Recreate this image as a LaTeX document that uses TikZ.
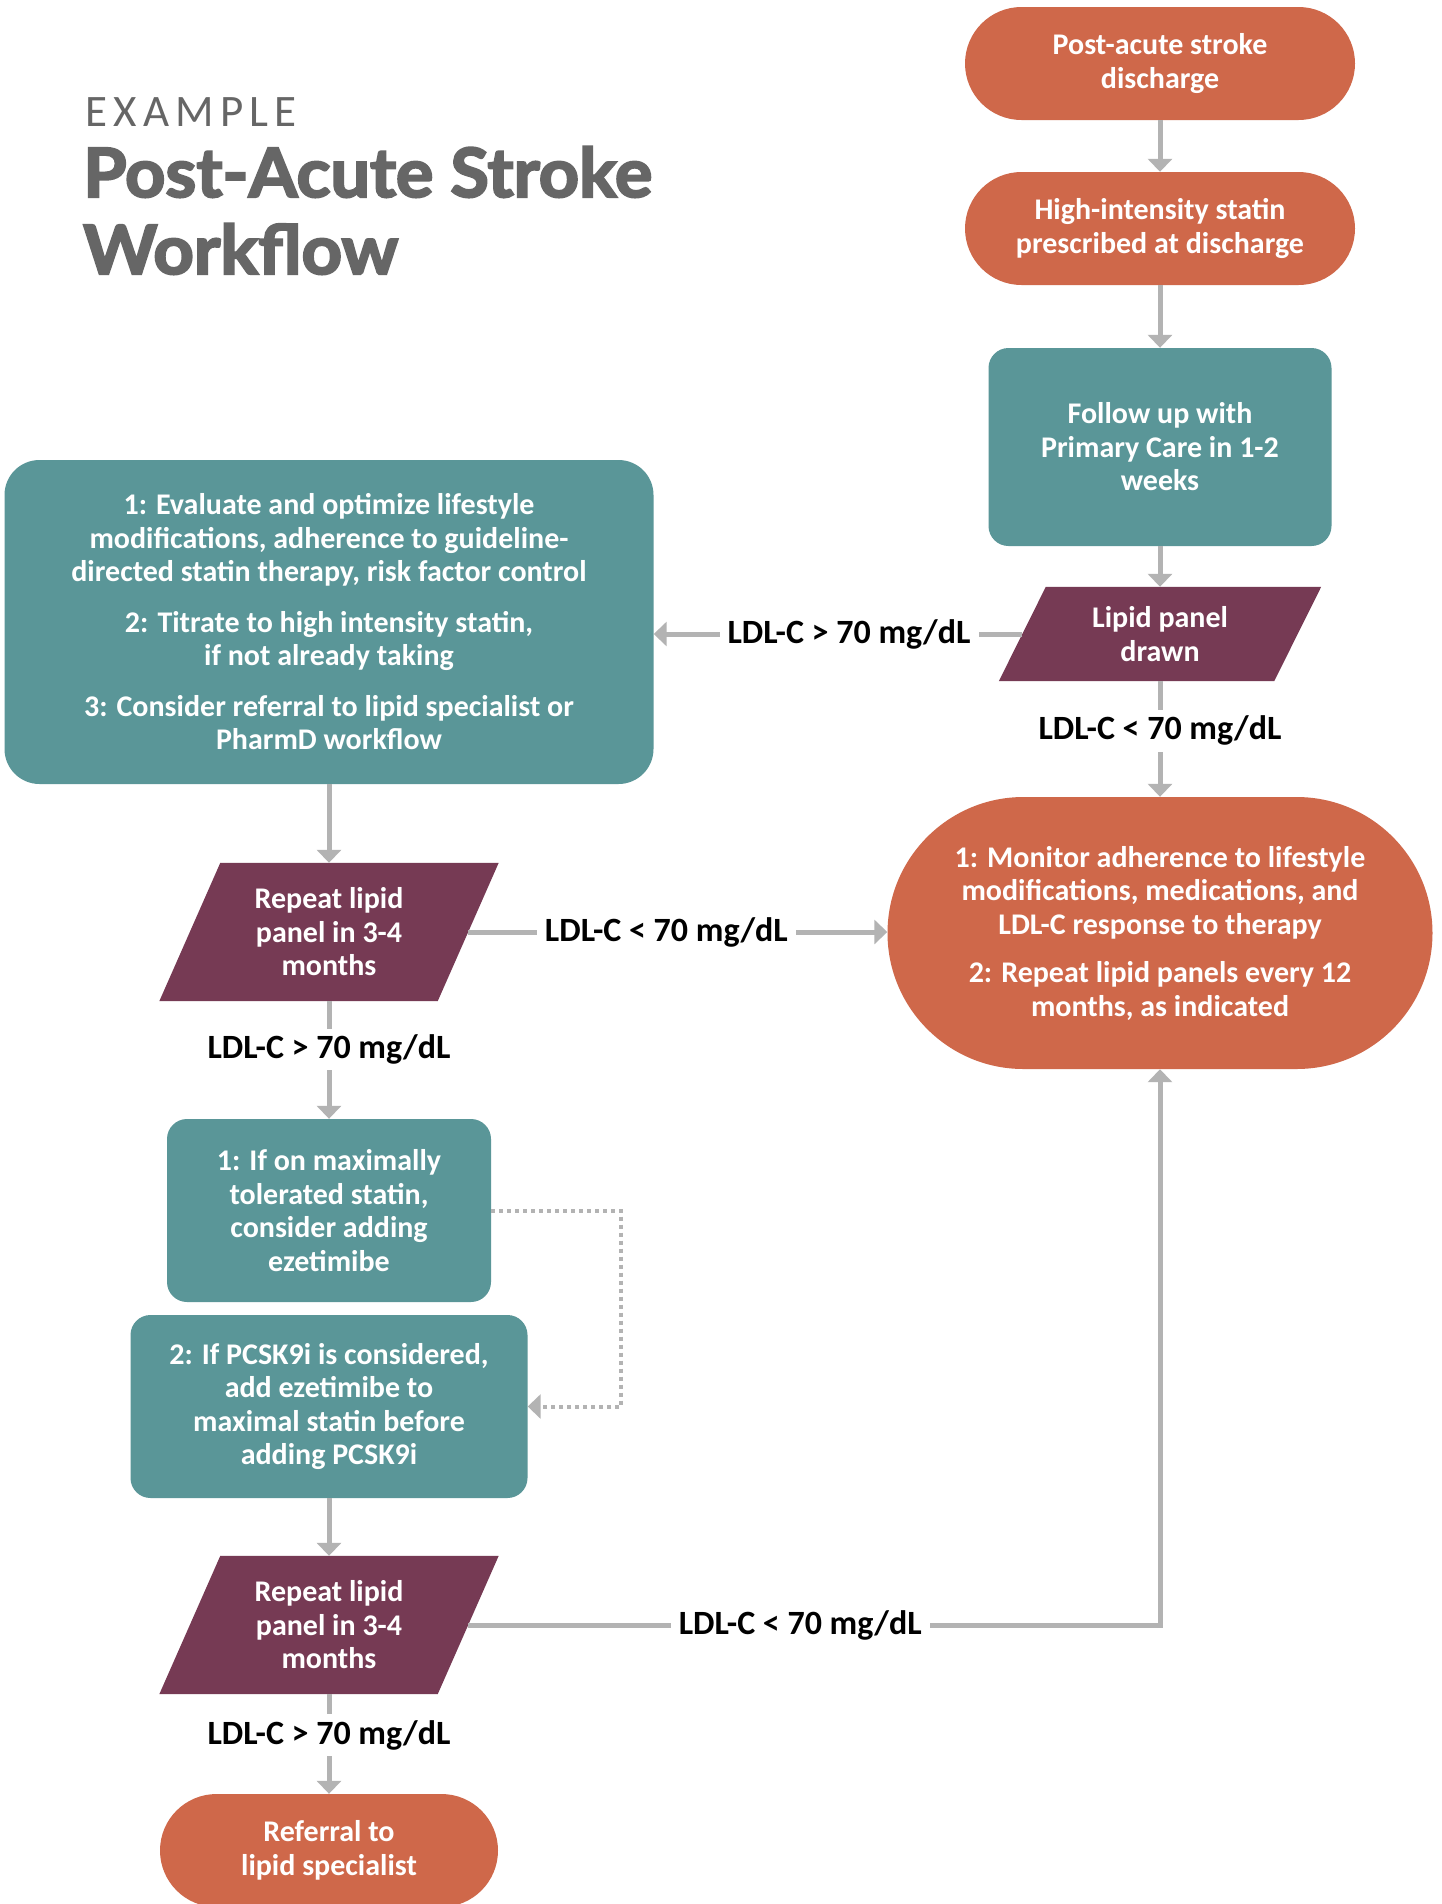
\documentclass[tikz,border=0pt]{standalone}
\usepackage{fontspec}
\usepackage{graphicx}
\setmainfont{Carlito}
\newfontfamily\titlefont{Lato}[BoldFeatures={FakeBold=3}]
\usetikzlibrary{arrows.meta,calc,backgrounds}
\definecolor{orng}{HTML}{CF684A}
\definecolor{tealc}{HTML}{5A9698}
\definecolor{plum}{HTML}{763A54}
\definecolor{arrgray}{HTML}{B3B3B3}
\definecolor{ttlgray}{HTML}{666666}
\begin{document}
\begin{tikzpicture}[x=1pt,y=-1pt,
  txt/.style={text=white, font=\bfseries\fontsize{30}{33.5}\selectfont, align=center, inner sep=0pt},
  stadium/.style={txt, fill=orng, minimum height=113pt, minimum width=390pt, rounded corners=56.5pt},
  tealbox/.style={txt, fill=tealc, rounded corners=20pt},
  parabox/.style={txt, minimum width=278pt, minimum height=138pt},
  arr/.style={draw=arrgray, line width=5pt, -{Triangle[width=24pt,length=13pt]}},
  dotarr/.style={draw=arrgray, line width=4pt, dash pattern=on 4pt off 4pt, -{Triangle[width=24pt,length=13pt]}},
  lbl/.style={fill=white, text=black, font=\bfseries\fontsize{34}{36}\selectfont, inner xsep=8pt, inner ysep=6pt}
]
\useasboundingbox (0,0) rectangle (1442,1904);

% title
\node[anchor=base west, inner sep=0pt, text=ttlgray, font=\fontsize{45}{45}\selectfont\addfontfeature{LetterSpace=14}] (ex) at (85,126) {EXAMPLE};
\node[anchor=base west, inner sep=0pt, text=ttlgray, font=\titlefont\bfseries\fontsize{68}{68}\selectfont] (t1) at (83,197) {\resizebox{569pt}{\height}{Post-Acute Stroke}};
\node[anchor=base west, inner sep=0pt, text=ttlgray, font=\titlefont\bfseries\fontsize{68}{68}\selectfont] (t2) at (83,274) {\resizebox{315pt}{\height}{Workflow}};

% right column
\node[stadium] (start) at (1160,63.5) {Post-acute stroke\\discharge};
\node[stadium] (statin) at (1160,228.5) {High-intensity statin\\prescribed at discharge};
\node[tealbox, minimum width=343pt, minimum height=198pt] (follow) at (1160,447) {Follow up with\\Primary Care in 1-2\\weeks};
\node[txt, minimum width=275pt, minimum height=94pt] (lip) at (1160,634) {Lipid panel\\drawn};
\node[txt, fill=orng, minimum width=545pt, minimum height=272pt, rounded corners=136pt] (mon) at (1160,933)
  {1: Monitor adherence to lifestyle\\modifications, medications, and\\LDL-C response to therapy\\[15pt]2: Repeat lipid panels every 12\\months, as indicated};

% left column
\node[tealbox, rounded corners=35pt, minimum width=649pt, minimum height=324pt] (big) at (329,622)
  {1: Evaluate and optimize lifestyle\\modifications, adherence to guideline-\\directed statin therapy, risk factor control\\[17pt]2: Titrate to high intensity statin,\\if not already taking\\[17pt]3: Consider referral to lipid specialist or\\PharmD workflow};
\node[parabox] (rep1) at (329,932) {Repeat lipid\\panel in 3-4\\months};
\node[tealbox, minimum width=324pt, minimum height=183pt] (b1) at (329,1210.5) {1: If on maximally\\tolerated statin,\\consider adding\\ezetimibe};
\node[tealbox, minimum width=397pt, minimum height=183pt] (b2) at (329,1406.5) {2: If PCSK9i is considered,\\add ezetimibe to\\maximal statin before\\adding PCSK9i};
\node[parabox] (rep2) at (329,1625) {Repeat lipid\\panel in 3-4\\months};
\node[stadium, minimum width=338pt] (ref) at (329,1850.5) {Referral to\\lipid specialist};

% connectors
\draw[arr] (start) -- (statin);
\draw[arr] (statin) -- (follow);
\draw[arr] (follow) -- (lip);
\draw[arr] (lip.west) -- node[lbl, pos=0.47] {LDL-C > 70 mg/dL} (lip.west -| big.east);
\draw[arr] (lip.south) -- node[lbl, pos=0.43] {LDL-C < 70 mg/dL} (mon.north);
\draw[arr] (big.south) -- (rep1.north);
\draw[arr] (rep1.east) -- node[lbl, pos=0.473] {LDL-C < 70 mg/dL} (rep1.east -| mon.west);
\draw[arr] (rep1.south) -- node[lbl, pos=0.41] {LDL-C > 70 mg/dL} (b1.north);
\draw[dotarr] (b1.east) -- ++(130,0) |- (b2.east);
\draw[arr] (b2.south) -- (rep2.north);
\draw[arr] (rep2.east) -| node[lbl, pos=0.24] {LDL-C < 70 mg/dL} (mon.south);
\draw[arr] (rep2.south) -- node[lbl, pos=0.41] {LDL-C > 70 mg/dL} (ref.north);

\begin{scope}[on background layer]
\fill[white] (0,0) rectangle (1442,1904);
\fill[plum] ($(lip.north west)+(23.5,0)$) -- ($(lip.north east)+(23.5,0)$) -- ($(lip.south east)+(-23.5,0)$) -- ($(lip.south west)+(-23.5,0)$) -- cycle;
\fill[plum] ($(rep1.north west)+(30.5,0)$) -- ($(rep1.north east)+(30.5,0)$) -- ($(rep1.south east)+(-30.5,0)$) -- ($(rep1.south west)+(-30.5,0)$) -- cycle;
\fill[plum] ($(rep2.north west)+(30.5,0)$) -- ($(rep2.north east)+(30.5,0)$) -- ($(rep2.south east)+(-30.5,0)$) -- ($(rep2.south west)+(-30.5,0)$) -- cycle;
\end{scope}
\end{tikzpicture}
\end{document}
